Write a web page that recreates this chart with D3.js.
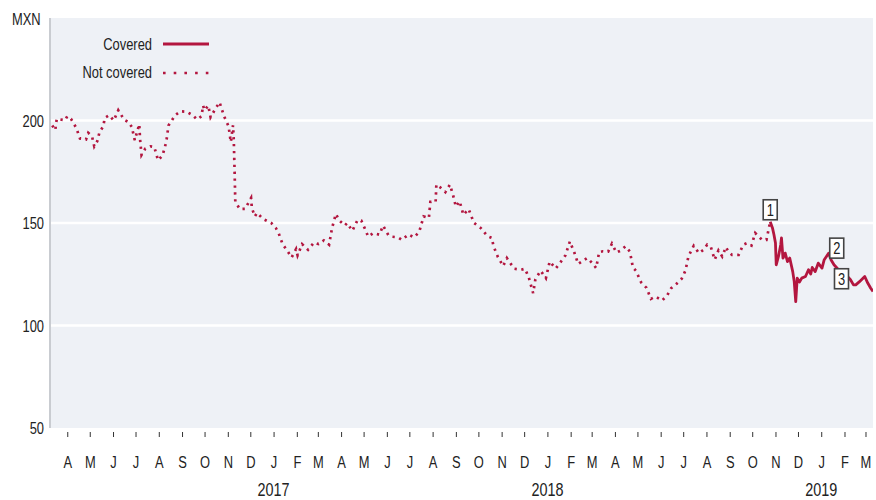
<!DOCTYPE html>
<html><head><meta charset="utf-8">
<script src="https://cdn.jsdelivr.net/npm/d3@7"></script>
<style>
body{margin:0;background:#fff}
text{font-family:"Liberation Sans","Arial",sans-serif;fill:#222}
</style>
</head><body>
<svg id="c" width="876" height="500"></svg>
<script>
const notCoveredDates = ["2016-03-12","2016-03-16","2016-03-18","2016-03-29","2016-04-01","2016-04-06","2016-04-13","2016-04-18","2016-04-26","2016-04-29","2016-05-04","2016-05-07","2016-05-11","2016-05-14","2016-05-19","2016-05-21","2016-05-27","2016-06-02","2016-06-08","2016-06-16","2016-06-21","2016-06-26","2016-06-30","2016-07-06","2016-07-07","2016-07-09","2016-07-14","2016-07-21","2016-07-26","2016-07-31","2016-08-06","2016-08-11","2016-08-14","2016-08-23","2016-08-30","2016-09-07","2016-09-15","2016-09-21","2016-09-27","2016-09-29","2016-10-01","2016-10-06","2016-10-09","2016-10-15","2016-10-21","2016-10-27","2016-11-02","2016-11-05","2016-11-08","2016-11-09","2016-11-10","2016-11-11","2016-11-17","2016-11-24","2016-12-02","2016-12-03","2016-12-07","2016-12-10","2016-12-18","2016-12-29","2017-01-04","2017-01-08","2017-01-13","2017-01-20","2017-01-25","2017-01-31","2017-02-02","2017-02-08","2017-02-16","2017-02-24","2017-03-02","2017-03-09","2017-03-16","2017-03-20","2017-03-25","2017-03-30","2017-04-06","2017-04-09","2017-04-16","2017-04-23","2017-04-28","2017-05-04","2017-05-07","2017-05-14","2017-05-22","2017-05-27","2017-06-03","2017-06-08","2017-06-16","2017-06-21","2017-06-30","2017-07-07","2017-07-14","2017-07-20","2017-07-27","2017-07-29","2017-08-05","2017-08-06","2017-08-11","2017-08-18","2017-08-24","2017-08-28","2017-09-01","2017-09-06","2017-09-11","2017-09-18","2017-09-25","2017-10-04","2017-10-13","2017-10-19","2017-10-21","2017-10-27","2017-11-03","2017-11-08","2017-11-12","2017-11-18","2017-11-27","2017-12-02","2017-12-07","2017-12-13","2017-12-16","2017-12-23","2017-12-30","2018-01-04","2018-01-12","2018-01-17","2018-01-25","2018-01-31","2018-02-06","2018-02-11","2018-02-23","2018-03-02","2018-03-07","2018-03-11","2018-03-16","2018-03-23","2018-03-28","2018-04-03","2018-04-09","2018-04-15","2018-04-21","2018-04-25","2018-04-29","2018-05-06","2018-05-13","2018-05-19","2018-05-25","2018-06-03","2018-06-10","2018-06-15","2018-06-22","2018-06-29","2018-07-04","2018-07-08","2018-07-15","2018-07-22","2018-07-28","2018-08-02","2018-08-07","2018-08-12","2018-08-17","2018-08-22","2018-08-27","2018-08-30","2018-09-04","2018-09-13","2018-09-19","2018-09-24","2018-09-30","2018-10-05","2018-10-14","2018-10-20","2018-10-25"];
const notCoveredValues = [197.6,195.3,200.8,200.1,202.1,200.8,196.4,191.2,190.7,194.0,192.3,187.4,189.9,194.3,197.2,201.3,202.6,200.0,205.0,200.3,199.4,196.9,190.4,198.2,191.1,183.2,186.3,187.4,187.1,180.6,182.9,189.6,197.6,202.6,204.5,204.3,202.6,200.5,202.1,207.3,205.0,207.3,201.6,205.4,208.9,202.1,197.2,189.5,197.7,190.0,176.0,160.4,156.8,156.9,162.2,157.4,153.2,154.9,152.0,150.0,147.6,144.8,139.7,136.1,133.2,137.3,134.2,139.7,136.9,140.5,139.7,141.5,139.4,147.6,154.4,151.1,148.8,150.0,146.2,151.5,151.1,146.2,143.4,145.1,144.3,148.7,144.1,143.3,143.0,141.8,144.4,143.0,145.5,153.2,152.4,160.3,160.3,168.7,167.4,165.1,168.7,164.0,158.0,160.6,154.0,156.8,150.1,147.6,143.6,142.7,138.9,133.4,129.0,132.9,130.7,127.7,127.2,127.7,123.7,115.8,122.6,126.7,123.1,131.2,127.8,130.1,134.2,141.0,135.5,130.0,132.9,130.4,128.0,135.8,136.2,136.0,139.9,135.6,136.6,138.6,136.0,128.3,126.7,121.0,118.4,113.0,114.1,112.2,114.9,118.2,120.3,122.8,126.8,133.7,138.9,135.3,136.9,139.4,138.1,132.1,136.6,133.7,138.3,136.1,134.5,134.5,139.4,140.2,139.0,145.1,141.8,141.8,150.6];
const coveredDates = ["2018-10-25","2018-10-28","2018-10-30","2018-11-01","2018-11-02","2018-11-05","2018-11-08","2018-11-09","2018-11-11","2018-11-14","2018-11-17","2018-11-20","2018-11-24","2018-11-26","2018-11-28","2018-11-30","2018-12-03","2018-12-06","2018-12-11","2018-12-15","2018-12-18","2018-12-20","2018-12-24","2018-12-28","2019-01-02","2019-01-05","2019-01-11","2019-01-14","2019-01-18","2019-01-24","2019-01-30","2019-02-05","2019-02-09","2019-02-13","2019-02-16","2019-02-21","2019-02-28","2019-03-04","2019-03-08","2019-03-11"];
const coveredValues = [150.6,147.6,144.3,140.2,129.6,133.7,139.4,142.7,132.9,135.3,131.2,132.9,126.3,121.4,111.6,123.1,121.2,123.1,123.9,127.2,125.1,128.3,126.3,130.4,128.0,132.1,135.3,132.1,129.6,127.2,124.7,123.9,122.3,119.8,119.8,121.4,123.9,120.7,118.2,116.6];
const yTicks = [50, 100, 150, 200];
const gridValues = [100, 150, 200];
const monthLetters = ["J","F","M","A","M","J","J","A","S","O","N","D"];
const yearLabels = ["2017","2018","2019"];
const legendLabels = ["Covered","Not covered"];
const unitLabel = "MXN";
const annotationLabels = ["1","2","3"];
const annotationDates = ["2018-10-25","2019-01-11","2019-01-24"];
const annotationValues = [150.6,135.3,127.2];

const parse = d3.timeParse("%Y-%m-%d");
const svg = d3.select("#c");
const L = 50, R = 873, T = 18, B = 428;
const color = "#b3163f";
const SX = 0.76; // condensed text
const FS = 17;

function label(sel, x, y, txt, anchor, size, sx) {
  return sel.append("text")
    .attr("transform", `translate(${x},${y}) scale(${sx || SX},1)`)
    .attr("text-anchor", anchor || "start")
    .attr("font-size", size || FS)
    .text(txt);
}

const x = d3.scaleTime().domain([new Date(2016,2,9), new Date(2019,2,11)]).range([L, R]);
const y = d3.scaleLinear().domain([50, 250]).range([B, T]);

svg.append("rect").attr("x", L).attr("y", T).attr("width", R - L).attr("height", B - T).attr("fill", "#eef1f6");
svg.append("clipPath").attr("id","clip").append("rect").attr("x", L).attr("y", T).attr("width", R - L).attr("height", B - T);

svg.selectAll(".grid").data(gridValues).enter().append("line")
  .attr("x1", L).attr("x2", R).attr("y1", d => y(d)).attr("y2", d => y(d))
  .attr("stroke", "#fff").attr("stroke-width", 2.5);

svg.append("line").attr("x1", L).attr("x2", L).attr("y1", T).attr("y2", B)
  .attr("stroke", "#c9ccd1").attr("stroke-width", 2);

// y labels
yTicks.forEach(v => label(svg, 44, y(v) + 6, v, "end"));
label(svg, 12, 25, unitLabel, "start");

// x axis
const months = d3.timeMonth.range(new Date(2016,3,1), new Date(2019,2,2));
const xAxis = d3.axisBottom(x).tickValues(months).tickSize(5).tickFormat(d => monthLetters[d.getMonth()]);
const gx = svg.append("g").attr("transform", `translate(0,${B + 4})`).call(xAxis);
gx.select(".domain").remove();
gx.selectAll(".tick line").attr("stroke", "#333");
gx.selectAll(".tick text").attr("y", 0).attr("dy", null)
  .attr("transform", `translate(0,36) scale(${SX},1)`)
  .attr("font-size", FS).attr("font-family", '"Liberation Sans",Arial,sans-serif').attr("fill", "#222");

yearLabels.forEach(yr => label(svg, x(new Date(+yr, 0, 1)), 496, yr, "middle", 18, 0.8));

// lines
const line = d3.line().x(d => x(d[0])).y(d => y(d[1]));
const nc = notCoveredDates.map((d, i) => [parse(d), notCoveredValues[i]]);
const cv = coveredDates.map((d, i) => [parse(d), coveredValues[i]]);
const g = svg.append("g").attr("clip-path", "url(#clip)");
g.append("path").attr("d", line(nc)).attr("fill", "none").attr("stroke", color)
  .attr("stroke-width", 2.7).attr("stroke-dasharray", "2.3,4.6");
g.append("path").attr("d", line(cv)).attr("fill", "none").attr("stroke", color)
  .attr("stroke-width", 2.8).attr("stroke-linejoin", "round");

// annotations
const offs = [[0, -12], [8, -5], [3, 9]];
annotationLabels.forEach((lab, i) => {
  const cx = x(parse(annotationDates[i])) + offs[i][0];
  const cy = y(annotationValues[i]) + offs[i][1];
  svg.append("rect").attr("x", cx - 7).attr("y", cy - 10).attr("width", 14).attr("height", 20)
    .attr("fill", "#fff").attr("stroke", "#444").attr("stroke-width", 1.6);
  label(svg, cx, cy + 6, lab, "middle", 17);
});

// legend
label(svg, 152, 50, legendLabels[0], "end");
svg.append("line").attr("x1", 163).attr("x2", 209).attr("y1", 44).attr("y2", 44)
  .attr("stroke", color).attr("stroke-width", 3);
label(svg, 152, 78, legendLabels[1], "end");
svg.append("line").attr("x1", 163).attr("x2", 210).attr("y1", 73).attr("y2", 73)
  .attr("stroke", color).attr("stroke-width", 2.6).attr("stroke-dasharray", "2.6,8.1");
</script>
</body></html>
